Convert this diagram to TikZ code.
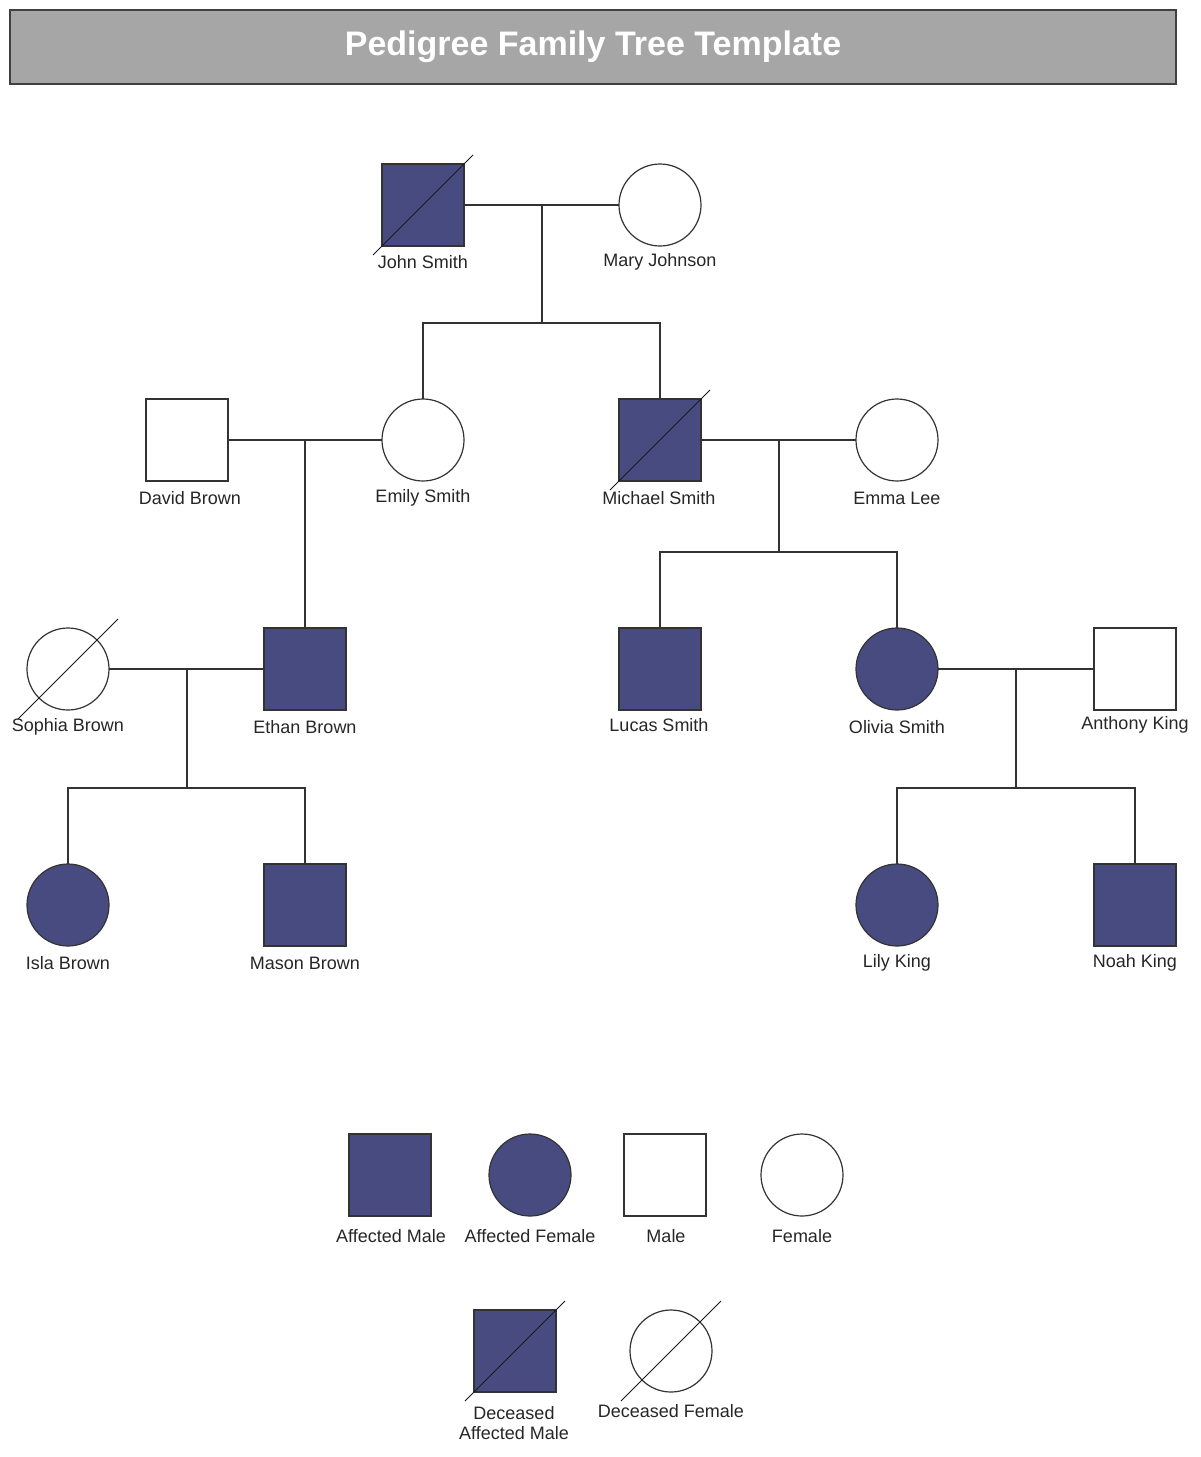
\documentclass[tikz,border=0pt]{standalone}
\usepackage{fontspec}
\setmainfont{Liberation Sans}
\begin{document}
\begin{tikzpicture}[x=1pt,y=-1pt,
  base/.style={draw=black!80,line width=1.2pt,inner sep=0pt,outer sep=0pt},
  male/.style={base,rectangle,minimum width=82pt,minimum height=82pt,fill=white},
  female/.style={base,circle,minimum size=82pt,fill=white},
  aff/.style={fill=affc},
  lbl/.style={font=\fontsize{18}{20}\selectfont,text=black!85,anchor=center},
  ln/.style={draw=black!80,line width=1.2pt},
  dec/.style={draw=black!90,line width=1pt}]
\definecolor{affc}{HTML}{474B80}
\useasboundingbox (0,0) rectangle (1200,1457);
\node[draw=black!75,line width=1.2pt,fill=black!35,minimum width=1166pt,minimum height=74pt,inner sep=0pt,
  font=\bfseries\fontsize{34}{38}\selectfont,text=white] (title) at (593,47) {Pedigree Family Tree Template};
\newcommand{\deceased}[1]{\draw[dec] ($(#1)+(-50,50)$) -- ($(#1)+(50,-50)$);}
% gen 1
\node[male,aff] (john) at (423,205) {};
\node[female] (mary) at (660,205) {};
% gen 2
\node[male] (david) at (187,440) {};
\node[female] (emily) at (423,440) {};
\node[male,aff] (michael) at (660,440) {};
\node[female] (emma) at (897,440) {};
% gen 3
\node[female] (sophia) at (68,669) {};
\node[male,aff] (ethan) at (305,669) {};
\node[male,aff] (lucas) at (660,669) {};
\node[female,aff] (olivia) at (897,669) {};
\node[male] (anthony) at (1135,669) {};
% gen 4
\node[female,aff] (isla) at (68,905) {};
\node[male,aff] (mason) at (305,905) {};
\node[female,aff] (lily) at (897,905) {};
\node[male,aff] (noah) at (1135,905) {};
% legend
\node[male,aff] (lam) at (390,1175) {};
\node[female,aff] (laf) at (530,1175) {};
\node[male] (lm) at (665,1175) {};
\node[female] (lf) at (802,1175) {};
\node[male,aff] (ldam) at (515,1351) {};
\node[female] (ldf) at (671,1351) {};
% deceased slashes
\draw[dec] (373,255) -- (473,155);
\draw[dec] (610,490) -- (710,390);
\draw[dec] (18,719) -- (118,619);
\draw[dec] (465,1401) -- (565,1301);
\draw[dec] (621,1401) -- (721,1301);
% labels
\node[lbl] (tjohn) at (423,262) {John Smith};
\node[lbl] (tmary) at (660,262) {Mary Johnson};
\node[lbl] (tdavid) at (190,498) {David Brown};
\node[lbl] (temily) at (423,498) {Emily Smith};
\node[lbl] (tmichael) at (659,498) {Michael Smith};
\node[lbl] (temma) at (897,498) {Emma Lee};
\node[lbl] (tsophia) at (68,727) {Sophia Brown};
\node[lbl] (tethan) at (305,727) {Ethan Brown};
\node[lbl] (tlucas) at (659,725) {Lucas Smith};
\node[lbl] (tolivia) at (897,727) {Olivia Smith};
\node[lbl] (tanthony) at (1135,725) {Anthony King};
\node[lbl] (tisla) at (68,963) {Isla Brown};
\node[lbl] (tmason) at (305,963) {Mason Brown};
\node[lbl] (tlily) at (897,963) {Lily King};
\node[lbl] (tnoah) at (1135,963) {Noah King};
\node[lbl] (tlam) at (391,1236) {Affected Male};
\node[lbl] (tlaf) at (530,1236) {Affected Female};
\node[lbl] (tlm) at (666,1236) {Male};
\node[lbl] (tlf) at (802,1236) {Female};
\node[lbl,align=center] (tldam) at (514,1423) {Deceased\\Affected Male};
\node[lbl] (tldf) at (671,1411) {Deceased Female};
% connectors
\coordinate (m1) at (542,205);
\draw[ln] (john.east) -- (mary.west);
\draw[ln] (m1) -- (542,323) -| (emily.north);
\draw[ln] (542,323) -| (michael.north);
\coordinate (m2) at (305,440);
\draw[ln] (david.east) -- (emily.west);
\draw[ln] (m2) -- (ethan.north);
\coordinate (m3) at (779,440);
\draw[ln] (michael.east) -- (emma.west);
\draw[ln] (m3) -- (779,552) -| (lucas.north);
\draw[ln] (779,552) -| (olivia.north);
\coordinate (m4) at (187,669);
\draw[ln] (sophia.east) -- (ethan.west);
\draw[ln] (m4) -- (187,788) -| (isla.north);
\draw[ln] (187,788) -| (mason.north);
\coordinate (m5) at (1016,669);
\draw[ln] (olivia.east) -- (anthony.west);
\draw[ln] (m5) -- (1016,788) -| (lily.north);
\draw[ln] (1016,788) -| (noah.north);
\end{tikzpicture}
\end{document}
